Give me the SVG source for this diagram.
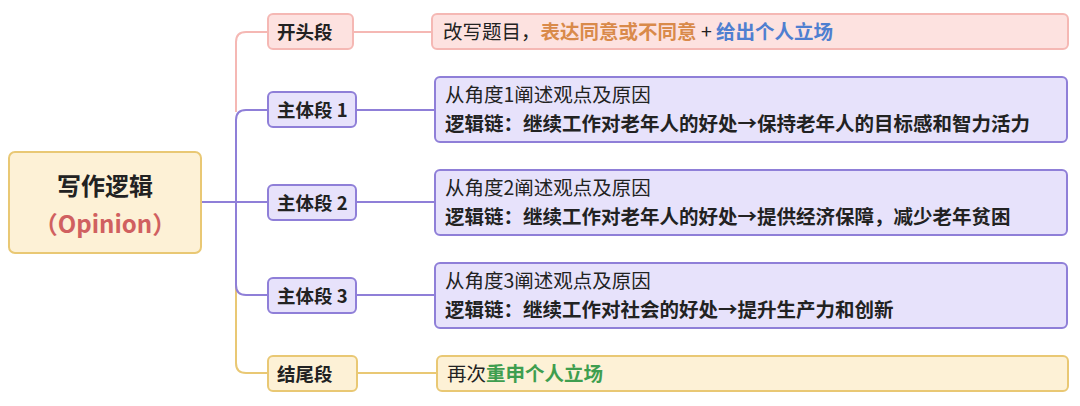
<svg xmlns="http://www.w3.org/2000/svg" width="1080" height="406" viewBox="0 0 1080 406">
<style>
text{font-family:"Noto Sans CJK SC","Noto Sans",sans-serif;font-size:19.5px;fill:#222}
.b{font-weight:bold}
.nd{font-size:18.5px;font-weight:bold}
.rt{font-size:24px;font-weight:bold}
.pk{fill:#fde2e0;stroke:#f5b8b4;stroke-width:2}
.pu{fill:#e7e2fb;stroke:#8f7fd8;stroke-width:2}
.ye{fill:#fdf1d6;stroke:#e9c874;stroke-width:2}
.l{fill:none;stroke-width:2}
</style>
<rect width="1080" height="406" fill="#fff"/>
<g id="connectors">
<path class="l" stroke="#f5b8b4" d="M236 112 V42 Q236 32 246 32 H268 M353 32 H432"/>
<path class="l" stroke="#e9c874" d="M236 202 V363 Q236 373 246 373 H268 M357 373 H437"/>
<path class="l" stroke="#8f7fd8" d="M201 202 H268 M246 110 Q236 110 236 120 V285 Q236 295 246 295 H268 M246 110 H268 M356 110 H435 M356 202 H435 M356 295 H435"/>
</g>
<g id="root"><rect class="ye" x="9" y="152" width="192" height="101" rx="6"/>
<text class="rt" x="105" y="195" text-anchor="middle">写作逻辑</text>
<text class="rt" x="105" y="233" text-anchor="middle" style="fill:#d06060">（Opinion）</text></g>
<g id="n1"><rect class="pk" x="268" y="14" width="85" height="35" rx="5"/><text class="nd" x="277" y="39">开头段</text></g>
<g id="n2"><rect class="pu" x="268" y="92" width="88" height="35" rx="5"/><text class="nd" x="277" y="117">主体段 1</text></g>
<g id="n3"><rect class="pu" x="268" y="185" width="88" height="35" rx="5"/><text class="nd" x="277" y="210">主体段 2</text></g>
<g id="n4"><rect class="pu" x="268" y="278" width="88" height="35" rx="5"/><text class="nd" x="277" y="303">主体段 3</text></g>
<g id="n5"><rect class="ye" x="268" y="356" width="89" height="35" rx="5"/><text class="nd" x="277" y="381">结尾段</text></g>
<g id="d1"><rect class="pk" x="432" y="14" width="636" height="35" rx="5"/>
<text x="443" y="39">改写题目，<tspan class="b" style="fill:#d98a4a">表达同意或不同意</tspan> + <tspan class="b" style="fill:#4f7fd0">给出个人立场</tspan></text></g>
<g id="d2"><rect class="pu" x="435" y="77" width="632" height="65" rx="5"/>
<text x="445" y="102">从角度1阐述观点及原因</text><text class="b" x="445" y="131">逻辑链：继续工作对老年人的好处→保持老年人的目标感和智力活力</text></g>
<g id="d3"><rect class="pu" x="435" y="170" width="632" height="65" rx="5"/>
<text x="445" y="195">从角度2阐述观点及原因</text><text class="b" x="445" y="224">逻辑链：继续工作对老年人的好处→提供经济保障，减少老年贫困</text></g>
<g id="d4"><rect class="pu" x="435" y="263" width="632" height="65" rx="5"/>
<text x="445" y="288">从角度3阐述观点及原因</text><text class="b" x="445" y="317">逻辑链：继续工作对社会的好处→提升生产力和创新</text></g>
<g id="d5"><rect class="ye" x="437" y="356" width="631" height="35" rx="5"/>
<text x="447" y="381">再次<tspan class="b" style="fill:#3f9e4f">重申个人立场</tspan></text></g>
</svg>
